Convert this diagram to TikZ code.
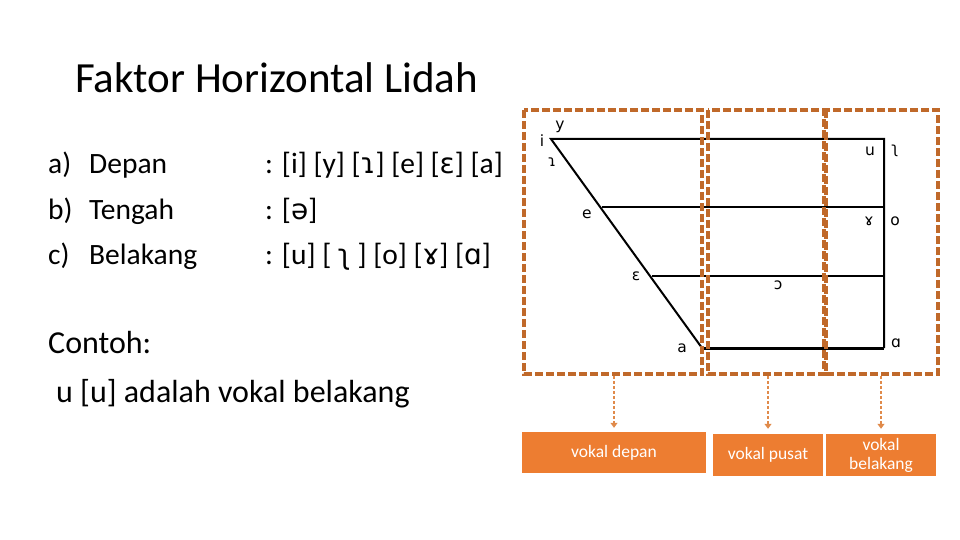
\documentclass[tikz,border=0pt]{standalone}
\usepackage{fontspec}
\setmainfont{Carlito}
\newfontfamily\ipafont{DejaVu Sans}
\usetikzlibrary{arrows.meta}
\definecolor{boxdash}{HTML}{C0692A}
\definecolor{conn}{HTML}{E08A4A}
\definecolor{boxfill}{HTML}{ED7D31}
\newcommand{\ipa}[1]{{\ipafont\fontsize{28}{29}\selectfont #1}}
\tikzset{
  txt/.style={anchor=base west, inner sep=0pt, font=\fontsize{29.5}{30}\selectfont},
  bigtxt/.style={anchor=base west, inner sep=0pt, font=\fontsize{32}{33}\selectfont},
  lab/.style={inner sep=0pt, font=\ipafont\fontsize{15.5}{16}\selectfont},
  region/.style={draw=boxdash, line width=3.2pt, dash pattern=on 8pt off 3pt},
  chart/.style={line width=2pt, black},
  conline/.style={draw=conn, line width=1.6pt, dash pattern=on 3pt off 2pt, -{Triangle[width=7pt,length=5pt,sep=0pt]}},
  catbox/.style={fill=boxfill, text=white, inner sep=0pt, align=center, font=\fontsize{17.5}{19}\selectfont}
}
\begin{document}
\begin{tikzpicture}[x=1pt,y=-1pt]
\useasboundingbox (0,0) rectangle (960,540);
% title
\node[anchor=base west, inner sep=0pt, font=\fontsize{43}{44}\selectfont] (title) at (75,93) {Faktor Horizontal Lidah};
% list
\node[txt] (la) at (48,174) {a)};
\node[txt] (lb) at (48,219) {b)};
\node[txt] (lc) at (48,264) {c)};
\node[txt] (na) at (89,174) {Depan};
\node[txt] (nb) at (89,219) {Tengah};
\node[txt] (nc) at (89,264) {Belakang};
\node[txt] (va) at (265,174) {: [i] [y] [\ipa{ɿ}] [e] [\ipa{ɛ}] [a]};
\node[txt] (vb) at (265,219) {: [\ipa{ə}]};
\node[txt] (vc) at (265,264) {: [u] [ \ipa{ʅ} ] [o] [\ipa{ɤ}] [\ipa{ɑ}]};
\node[bigtxt] (ct) at (48,353) {Contoh:};
\node[bigtxt] (ex) at (56,402) {u [u] adalah vokal belakang};
% chart
\coordinate (ci) at (551,139);
\coordinate (ca) at (702,348);
\coordinate (cr1) at (884,139);
\coordinate (cr4) at (884,348);
\coordinate (ce) at (602,207);
\coordinate (cr2) at (884,207);
\coordinate (ceps) at (652,276);
\coordinate (cr3) at (884,276);
\draw[chart] (ca) -- (ci) -- (cr1) -- (cr4);
\draw[chart] (ce) -- (cr2);
\draw[chart] (ceps) -- (cr3);
\draw[chart, line width=3pt] (ca) -- (cr4);
\node[lab] (li) at (542,141) {i};
\node[lab] (ly) at (560,127) {y};
\node[lab] (lapi) at (552,162) {ɿ};
\node[lab] (le) at (587,214) {e};
\node[lab] (leps) at (636,276) {ɛ};
\node[lab] (lopen) at (778,285) {ɔ};
\node[lab] (lla) at (682,348) {a};
\node[lab] (lu) at (870,151) {u};
\node[lab] (lret) at (895,151) {ʅ};
\node[lab] (lgam) at (869,221) {ɤ};
\node[lab] (lo) at (895,221) {o};
\node[lab] (lalpha) at (896,343) {ɑ};
% region boxes
\draw[region] (524,110) rectangle (702,374);
\draw[region] (708,110) rectangle (824,374);
\draw[region] (826,110) rectangle (938,374);
\coordinate (rd) at (614,376);
\coordinate (rp) at (768,376);
\coordinate (rb) at (881,376);
% category boxes
\node[catbox, minimum width=184pt, minimum height=41pt] (bd) at (614,452.5) {vokal depan};
\node[catbox, minimum width=110pt, minimum height=42pt] (bp) at (768,455) {vokal pusat};
\node[catbox, minimum width=110pt, minimum height=42pt] (bb) at (881,455) {vokal\\belakang};
\draw[conline] (rd) -- ([yshift=4pt]bd.north);
\draw[conline] (rp) -- ([yshift=5pt]bp.north);
\draw[conline] (rb) -- ([yshift=5pt]bb.north);
\end{tikzpicture}
\end{document}
